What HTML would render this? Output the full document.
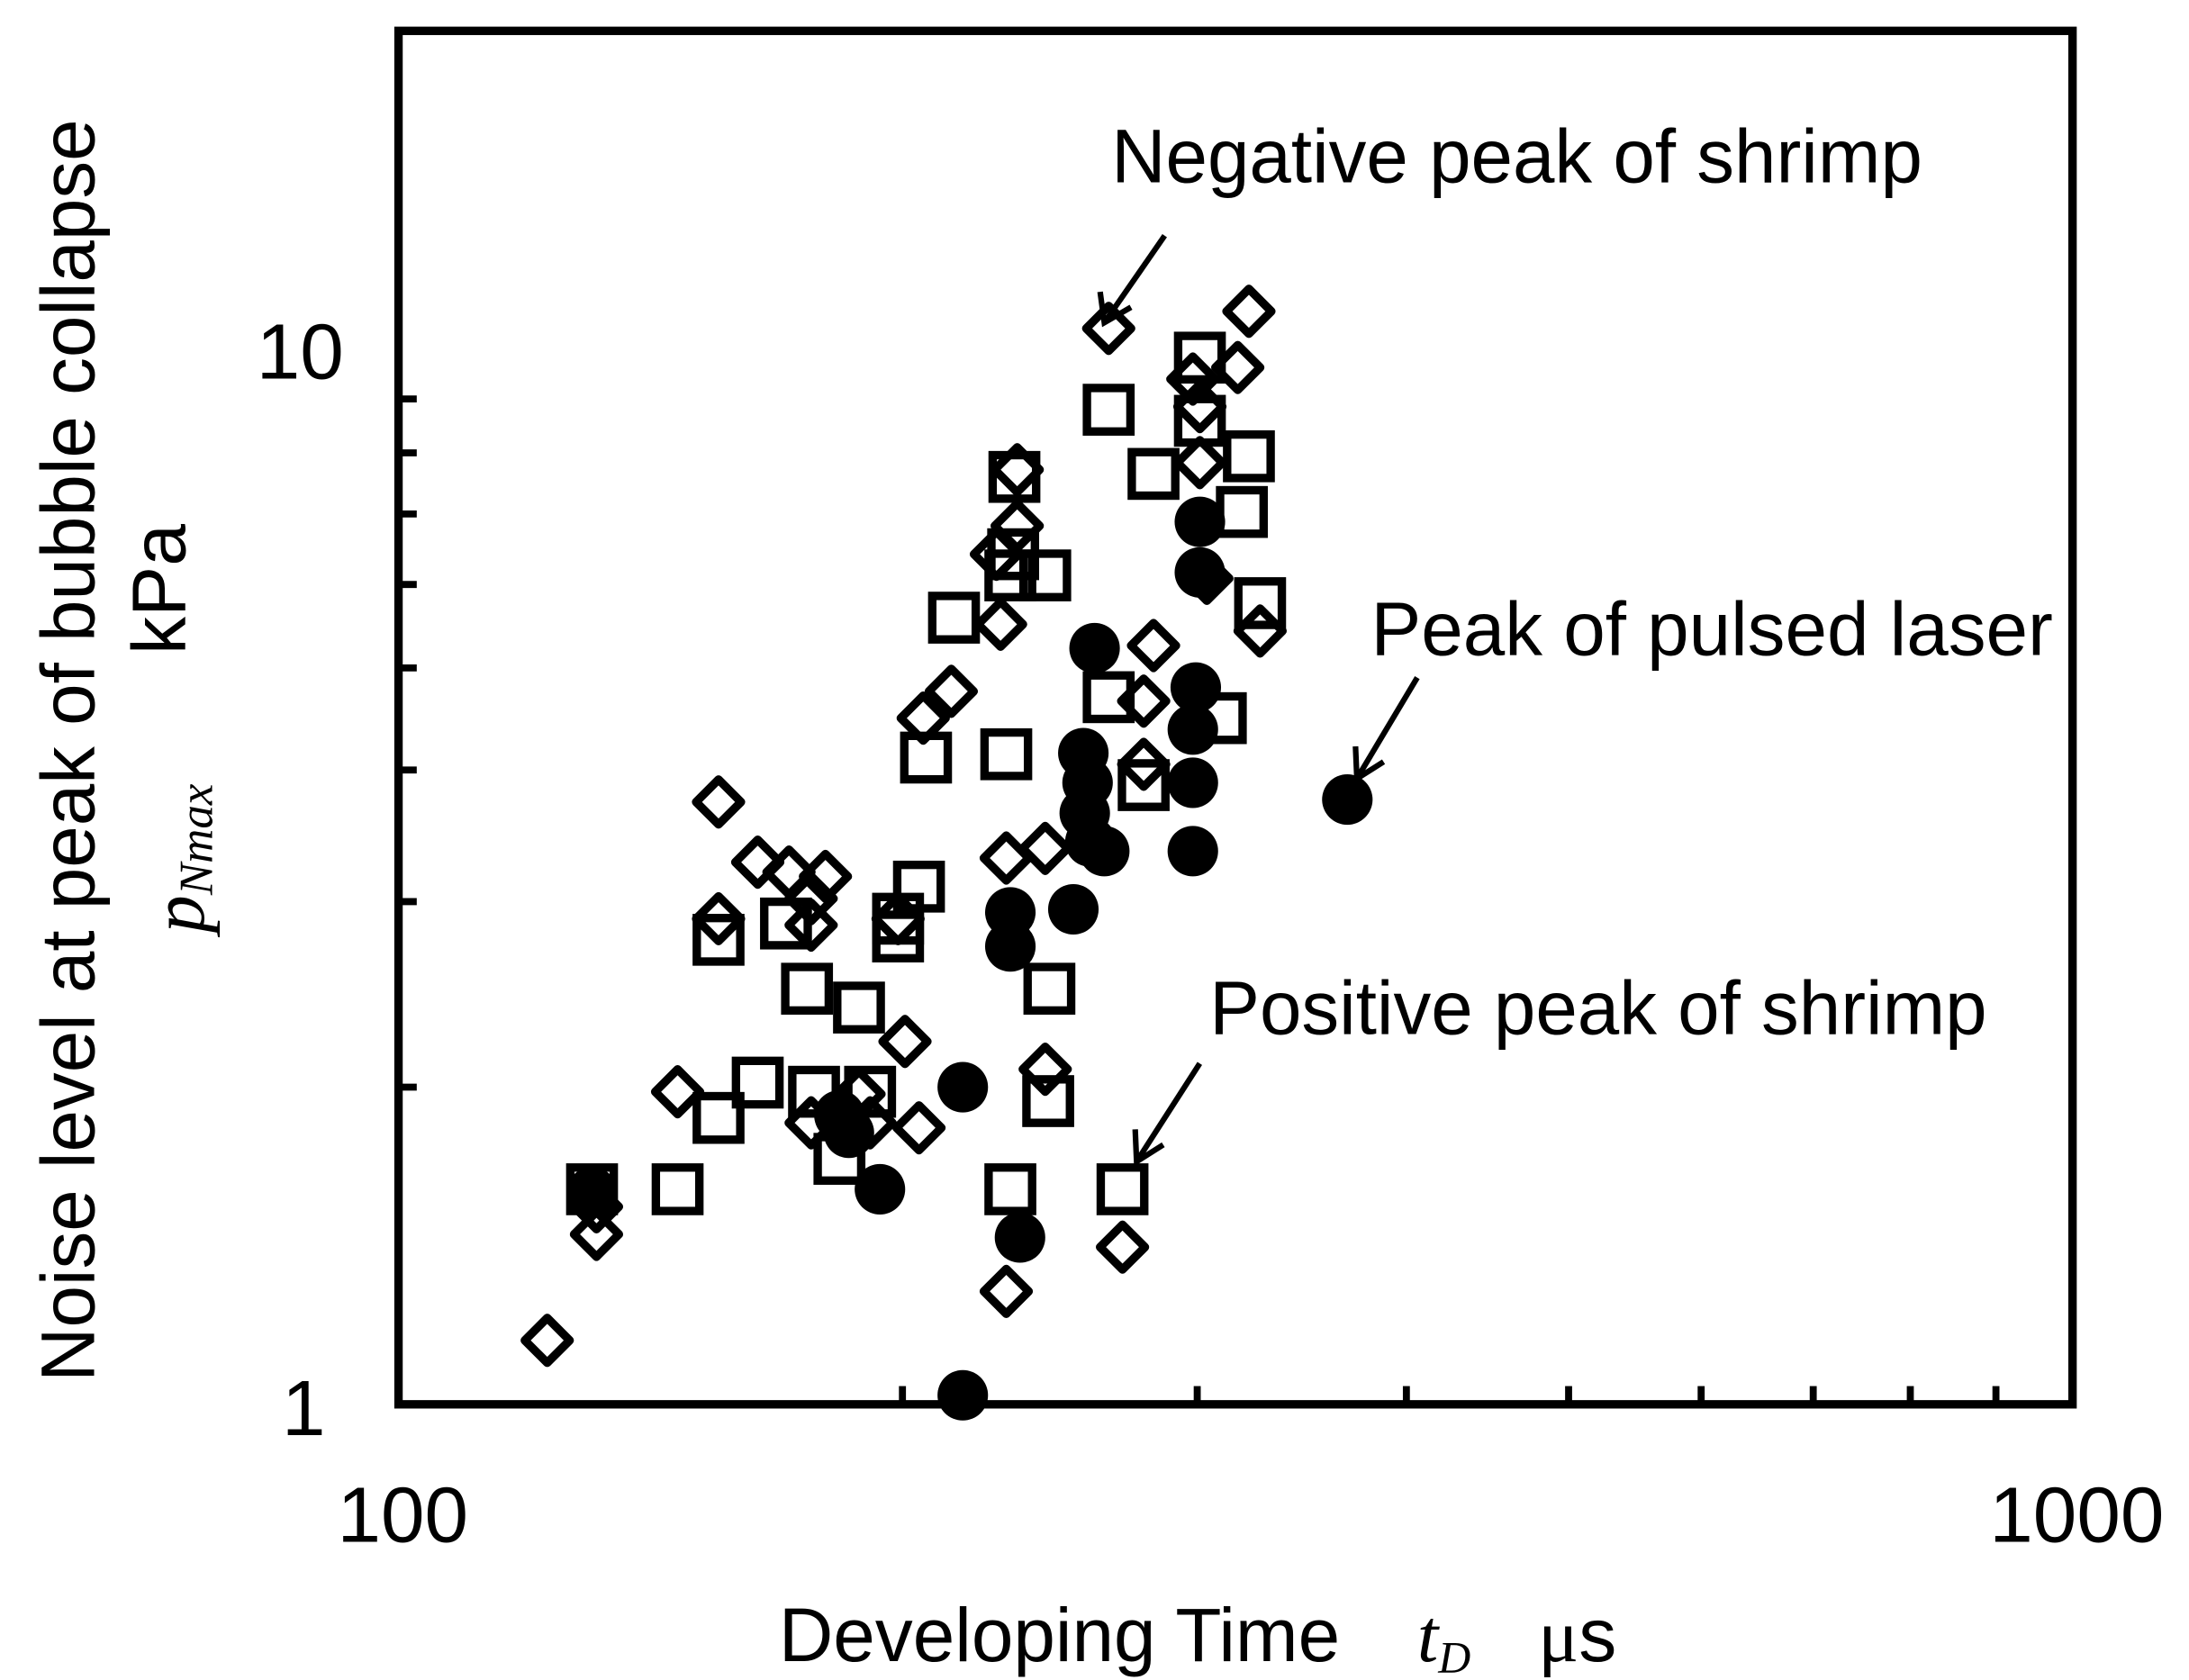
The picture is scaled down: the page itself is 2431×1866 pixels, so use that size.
<!DOCTYPE html>
<html><head><meta charset="utf-8"><style>
html,body{margin:0;padding:0;background:#fff;}
svg{display:block;}
text{font-family:"Liberation Sans",sans-serif;fill:#000;}
</style></head><body>
<svg id="chart" width="2431" height="1866" viewBox="0 0 1560 1197.5" preserveAspectRatio="none" xmlns="http://www.w3.org/2000/svg">
<rect x="0" y="0" width="1560" height="1197.5" fill="#fff"/>
<g id="ticks"></g>
<g id="marks"></g>
<rect x="284" y="22" width="1193" height="979" fill="none" stroke="#000" stroke-width="6"/>
<text x="245" y="270" font-size="56" text-anchor="end">10</text>
<text x="232" y="1023" font-size="56" text-anchor="end">1</text>
<text x="287" y="1099" font-size="56" text-anchor="middle">100</text>
<text x="1480" y="1099" font-size="56" text-anchor="middle">1000</text>
<text x="555" y="1184" font-size="54"><tspan textLength="400" lengthAdjust="spacingAndGlyphs">Developing Time</tspan><tspan dx="55" font-family="Liberation Serif" font-style="italic">t</tspan><tspan font-family="Liberation Serif" font-style="italic" font-size="32" dy="8">D</tspan><tspan dx="48" dy="-8" font-family="Liberation Serif">μ</tspan>s</text>
<text transform="translate(67,535) rotate(-90)" font-size="54" text-anchor="middle" textLength="900" lengthAdjust="spacingAndGlyphs">Noise level at peak of bubble collapse</text>
<text transform="translate(132,420) rotate(-90)" font-size="54" text-anchor="middle">kPa</text>
<text transform="translate(145,665) rotate(-90)" font-size="54" style="font-family:'Liberation Serif',serif;font-style:italic">p<tspan font-size="34" dy="6">Nmax</tspan></text>
<text x="792" y="130" font-size="54" textLength="578" lengthAdjust="spacingAndGlyphs">Negative peak of shrimp</text>
<text x="977" y="467" font-size="54" textLength="486" lengthAdjust="spacingAndGlyphs">Peak of pulsed laser</text>
<text x="862" y="737" font-size="54" textLength="554" lengthAdjust="spacingAndGlyphs">Positive peak of shrimp</text>
<g stroke="#000" stroke-width="4" fill="none"><line x1="830" y1="168" x2="787" y2="230"/><polyline points="784,208 787,230 806,219"/></g>
<g stroke="#000" stroke-width="4" fill="none"><line x1="1010" y1="483" x2="967" y2="555"/><polyline points="966,532 967,555 986,543"/></g>
<g stroke="#000" stroke-width="4" fill="none"><line x1="855" y1="758" x2="810" y2="828"/><polyline points="809,805 810,828 829,816"/></g>
</svg>
<script>
const diamondX=[122.7,131.3,131.3,155.3,155.3,146.8,163.9,171.1,176.4,176.4,179.9,176.4,188.4,191.3,198.8,200.7,204.6,205.8,213.9,230.7,230.7,228.9,227.6,234.2,234.2,243.4,243.4,265.6,270.7,278.7,282.5,298.2,301.1,304.0,317.2,322.1,327.1,278.7,301.1];
const diamondY=[1.15,1.45,1.54,3.73,2.89,1.98,3.27,3.20,2.85,3.02,3.17,1.85,1.97,1.85,2.89,2.21,1.83,4.48,4.75,1.28,3.30,5.50,6.41,6.82,7.71,3.37,2.08,10.5,1.41,4.65,5.25,9.40,7.83,6.08,9.64,10.9,5.42,4.05,8.85];
const squareX=[130.5,146.8,155.3,155.3,163.9,170.4,175.4,177.1,183.4,188.4,191.3,198.8,198.8,204.6,206.6,214.7,230.7,232.0,232.0,232.9,233.3,243.4,244.8,244.4,265.6,265.6,270.7,278.7,282.5,301.1,301.1,309.9,319.0,322.1,327.1];
const squareY=[1.60,1.60,1.87,2.76,2.02,2.86,2.48,1.98,1.71,2.38,1.98,2.78,2.89,3.10,4.11,5.58,4.14,1.60,6.12,6.41,7.59,6.12,2.48,1.94,8.79,4.69,1.60,3.87,7.64,9.85,8.58,4.48,7.03,7.94,5.76];
const circleX=[130.5,183.4,185.8,193.9,217.3,217.3,232.0,232.0,235.1,253.0,256.5,258.0,257.0,259.0,260.5,264.0,298.2,298.2,299.4,298.2,301.1,301.1,368.8];
const circleY=[1.59,1.88,1.81,1.60,2.00,1.02,2.93,2.72,1.44,2.95,4.15,3.89,3.64,3.42,5.22,3.35,3.89,4.37,4.79,3.35,6.88,6.16,3.75];
const xMinorTicks=[200,300,400,500,600,700,800,900];
const yMinorTicks=[2,3,4,5,6,7,8,9,20];

const NS="http://www.w3.org/2000/svg";
function xs(v){return 284+1193*Math.log10(v/100);}
function ys(v){return 1001-751*Math.log10(v);}
const ticks=document.getElementById('ticks');
const marks=document.getElementById('marks');
function mk(tag,attrs,parent){const e=document.createElementNS(NS,tag);for(const k in attrs)e.setAttribute(k,attrs[k]);parent.appendChild(e);return e;}
xMinorTicks.forEach(v=>{
  const l=mk('line',{x1:xs(v),x2:xs(v),y1:1001,y2:988,stroke:'#000','stroke-width':5},ticks);
  
  
});
yMinorTicks.forEach(v=>{
  if(ys(v)<24)return;
  const l=mk('line',{x1:284,x2:297,y1:ys(v),y2:ys(v),stroke:'#000','stroke-width':5},ticks);
  
  
});
diamondX.forEach((v,i)=>{
  const cx=xs(v),cy=ys(diamondY[i]),r=16;
  const p=mk('polygon',{points:`${cx},${cy-r} ${cx+r},${cy} ${cx},${cy+r} ${cx-r},${cy}`,fill:'none',stroke:'#000','stroke-width':6,'stroke-linejoin':'round'},marks);
  
  
});
squareX.forEach((v,i)=>{
  const cx=xs(v),cy=ys(squareY[i]),h=15.5;
  const p=mk('rect',{x:cx-h,y:cy-h,width:2*h,height:2*h,fill:'none',stroke:'#000','stroke-width':6},marks);
  
  
});
circleX.forEach((v,i)=>{
  const p=mk('circle',{cx:xs(v),cy:ys(circleY[i]),r:18,fill:'#000'},marks);
  
  
});
</script>
</body></html>
